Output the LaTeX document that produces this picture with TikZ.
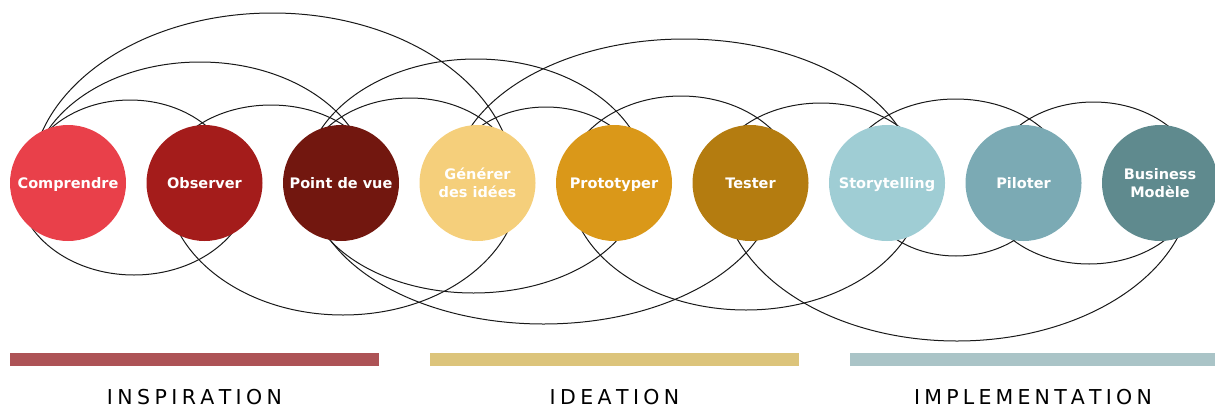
\documentclass[tikz,border=0pt]{standalone}
\usepackage{fontspec}
\setmainfont{DejaVu Sans}
\usepackage{graphicx}
\makeatletter
\newcommand\spacedtext[2]{\@tfor\spc@ch:=#2\do{\spc@ch\kern#1}\unkern}
\makeatother
\definecolor{cA}{HTML}{E9404A}
\definecolor{cB}{HTML}{A41C1B}
\definecolor{cC}{HTML}{72170F}
\definecolor{cD}{HTML}{F5CF7B}
\definecolor{cE}{HTML}{DA9819}
\definecolor{cF}{HTML}{B47C10}
\definecolor{cG}{HTML}{9FCDD4}
\definecolor{cH}{HTML}{7BAAB4}
\definecolor{cI}{HTML}{5F8A8E}
\definecolor{barA}{HTML}{AD5356}
\definecolor{barB}{HTML}{DCC47B}
\definecolor{barC}{HTML}{AAC4C7}
\begin{document}
\begin{tikzpicture}[x=1pt,y=-1pt,
  arcline/.style={line width=1pt, black!90},
  circ/.style={circle, minimum size=116pt, inner sep=0pt, text=white,
    font=\fontsize{14.5}{18.5}\selectfont\bfseries, text height=10.6pt, text depth=0pt},
  circtwo/.style={circ, align=center, text height=29.1pt, text depth=0pt},
  phase/.style={anchor=base, font=\fontsize{20.5}{24}\selectfont, text=black}]
\useasboundingbox (0,0) rectangle (1215,407);
% top arcs
\begin{scope}
\clip (0,0) rectangle (1215,183);
\draw[arcline] (272.5,183) ellipse [x radius=241.6pt, y radius=170pt];
\draw[arcline] (200,183) ellipse [x radius=169pt, y radius=121pt];
\draw[arcline] (130,183) ellipse [x radius=105pt, y radius=83pt];
\draw[arcline] (271,183) ellipse [x radius=108pt, y radius=78pt];
\draw[arcline] (476,183) ellipse [x radius=172pt, y radius=124pt];
\draw[arcline] (410,183) ellipse [x radius=109pt, y radius=85pt];
\draw[arcline] (684.5,183) ellipse [x radius=232pt, y radius=144pt];
\draw[arcline] (546,183) ellipse [x radius=98pt, y radius=76pt];
\draw[arcline] (681,183) ellipse [x radius=115pt, y radius=87pt];
\draw[arcline] (821,183) ellipse [x radius=110pt, y radius=80pt];
\draw[arcline] (955.5,183) ellipse [x radius=114pt, y radius=84pt];
\draw[arcline] (1093.5,183) ellipse [x radius=105pt, y radius=81pt];
\end{scope}
% bottom arcs
\begin{scope}
\clip (0,183) rectangle (1215,407);
\draw[arcline] (134,183) ellipse [x radius=117pt, y radius=92pt];
\draw[arcline] (343,183) ellipse [x radius=177pt, y radius=132pt];
\draw[arcline] (473.5,183) ellipse [x radius=168pt, y radius=110pt];
\draw[arcline] (543.5,183) ellipse [x radius=233pt, y radius=141pt];
\draw[arcline] (746,183) ellipse [x radius=177pt, y radius=127pt];
\draw[arcline] (957,183) ellipse [x radius=235pt, y radius=158pt];
\draw[arcline] (956,183) ellipse [x radius=94pt, y radius=73pt];
\draw[arcline] (1089,183) ellipse [x radius=107pt, y radius=81pt];
\end{scope}
% circles
\node[circ, fill=cA] (comprendre) at (68,183) {Comprendre};
\node[circ, fill=cB] (observer) at (204.5,183) {Observer};
\node[circ, fill=cC] (pointdevue) at (341,183) {Point de vue};
\node[circtwo, fill=cD] (generer) at (477.5,183) {Générer\\des idées};
\node[circ, fill=cE] (prototyper) at (614,183) {Prototyper};
\node[circ, fill=cF] (tester) at (750.5,183) {Tester};
\node[circ, fill=cG] (storytelling) at (887,183) {Storytelling};
\node[circ, fill=cH] (piloter) at (1023.5,183) {Piloter};
\node[circtwo, fill=cI] (business) at (1160,183) {Business\\Modèle};
% phase bars
\fill[barA] (10,353) rectangle (379,366);
\fill[barB] (430,353) rectangle (799,366);
\fill[barC] (850,353) rectangle (1215,366);
\node[phase] (inspiration) at (194.5,404) {\spacedtext{4.4pt}{INSPIRATION}};
\node[phase] (ideation) at (614.5,404) {\spacedtext{4.4pt}{IDEATION}};
\node[phase] (implementation) at (1033,404) {\spacedtext{4.2pt}{IMPLEMENTATION}};
\end{tikzpicture}
\end{document}
